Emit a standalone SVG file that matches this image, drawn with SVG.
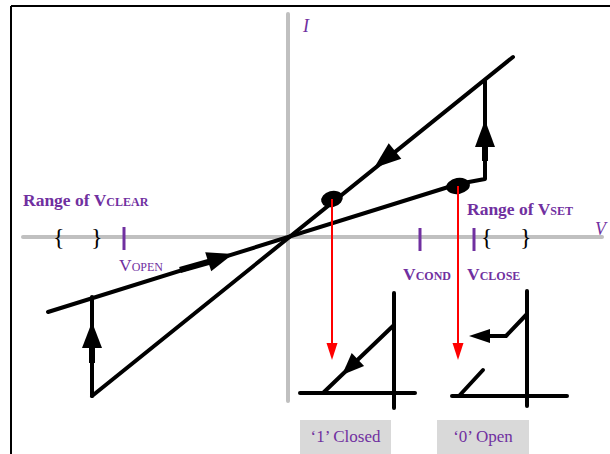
<svg xmlns="http://www.w3.org/2000/svg" width="610" height="454" viewBox="0 0 610 454">
<style>
.ax{stroke:#c0c0c0;stroke-width:4;fill:none;stroke-linecap:round}
.bk{stroke:#000;stroke-width:4;fill:none;stroke-linecap:round;stroke-linejoin:round}
.rd{stroke:#ff0000;stroke-width:2;fill:none}
.ah{fill:#000}
.ra{fill:#ff0000}
.tk{stroke:#7030a0;stroke-width:3}
.pt{font-family:"Liberation Serif",serif;fill:#7030a0}
.b{font-weight:bold}
.br{font-family:"Liberation Serif",serif;fill:#000;font-size:24px}
.lb{fill:#d9d9d9}
</style>
<rect width="610" height="454" fill="#fff"/>
<g id="frame">
<line x1="11" y1="6" x2="610" y2="6" stroke="#000" stroke-width="2"/>
<line x1="11" y1="6" x2="11" y2="454" stroke="#000" stroke-width="2"/>
</g>
<g id="axes">
<line class="ax" x1="288" y1="14" x2="288" y2="401"/>
<line class="ax" x1="23" y1="237" x2="602" y2="237"/>
<text class="pt" x="303" y="32" font-size="18" font-style="italic">I</text>
<text class="pt" x="595" y="235" font-size="18" font-style="italic">V</text>
</g>
<g id="connectors">
<line class="bk" x1="92" y1="396" x2="513" y2="57"/>
<line class="bk" x1="48" y1="312" x2="458" y2="184"/>
<polyline class="bk" points="92,396 92,297"/>
<polyline class="bk" points="458,184 485,179 485,81"/>
<rect x="89" y="345" width="6" height="18"/>
<polygon class="ah" points="92,322 82,348 102,348"/>
<rect x="482" y="145" width="6" height="16"/>
<polygon class="ah" points="485,120 475,147 495,147"/>
<polygon class="ah" points="374,168 388.7,143.2 401.3,158.8"/>
<polygon class="ah" points="233,254 205.2,252.3 211.2,271.3"/>
<line x1="180" y1="270" x2="212" y2="261" stroke="#000" stroke-width="6"/>
<ellipse cx="332" cy="199" rx="11" ry="8" transform="rotate(-15 332 199)"/>
<ellipse cx="458" cy="186" rx="12" ry="8" transform="rotate(-10 458 186)"/>
<line class="rd" x1="332" y1="199" x2="332" y2="345"/>
<polygon class="ra" points="332,360 326.5,343 337.5,343"/>
<line class="rd" x1="458" y1="186" x2="458" y2="345"/>
<polygon class="ra" points="458,360 452.5,343 463.5,343"/>
</g>
<g id="clear-range">
<text class="pt b" x="23" y="206" font-size="17.5">Range of V<tspan font-size="12">CLEAR</tspan></text>
<text class="br" x="53" y="245">{</text>
<text class="br" x="91" y="245">}</text>
<line class="tk" x1="124" y1="227" x2="124" y2="250"/>
<text class="pt" x="119" y="271" font-size="17.5">V<tspan font-size="12">OPEN</tspan></text>
</g>
<g id="set-range">
<text class="pt b" x="467" y="215" font-size="17.5">Range of V<tspan font-size="12">SET</tspan></text>
<line class="tk" x1="420" y1="228" x2="420" y2="251"/>
<line class="tk" x1="474" y1="228" x2="474" y2="251"/>
<text class="br" x="481" y="245">{</text>
<text class="br" x="520" y="245">}</text>
<text class="pt b" x="403" y="280" font-size="17.5">V<tspan font-size="12">COND</tspan></text>
<text class="pt b" x="467" y="280" font-size="17.5">V<tspan font-size="12">CLOSE</tspan></text>
</g>
<g id="closed-state">
<line class="bk" x1="300" y1="393" x2="415" y2="393"/>
<line class="bk" x1="394" y1="293" x2="394" y2="408"/>
<line class="bk" x1="394" y1="325" x2="323" y2="393"/>
<polygon class="ah" points="342,375 351.7,353.1 364.1,366.1"/>
<rect class="lb" x="300" y="420" width="91" height="34"/>
<text class="pt" x="345.5" y="442" font-size="17" text-anchor="middle">‘1’ Closed</text>
</g>
<g id="open-state">
<line class="bk" x1="452" y1="396" x2="567" y2="396"/>
<line class="bk" x1="527" y1="291" x2="527" y2="406"/>
<line class="bk" x1="459" y1="396" x2="483" y2="370"/>
<polyline class="bk" points="527,314 506,336 488,336"/>
<polygon class="ah" points="469,336 490,329 490,343"/>
<rect class="lb" x="437" y="420" width="92" height="34"/>
<text class="pt" x="483" y="442" font-size="17" text-anchor="middle">‘0’ Open</text>
</g>
</svg>
